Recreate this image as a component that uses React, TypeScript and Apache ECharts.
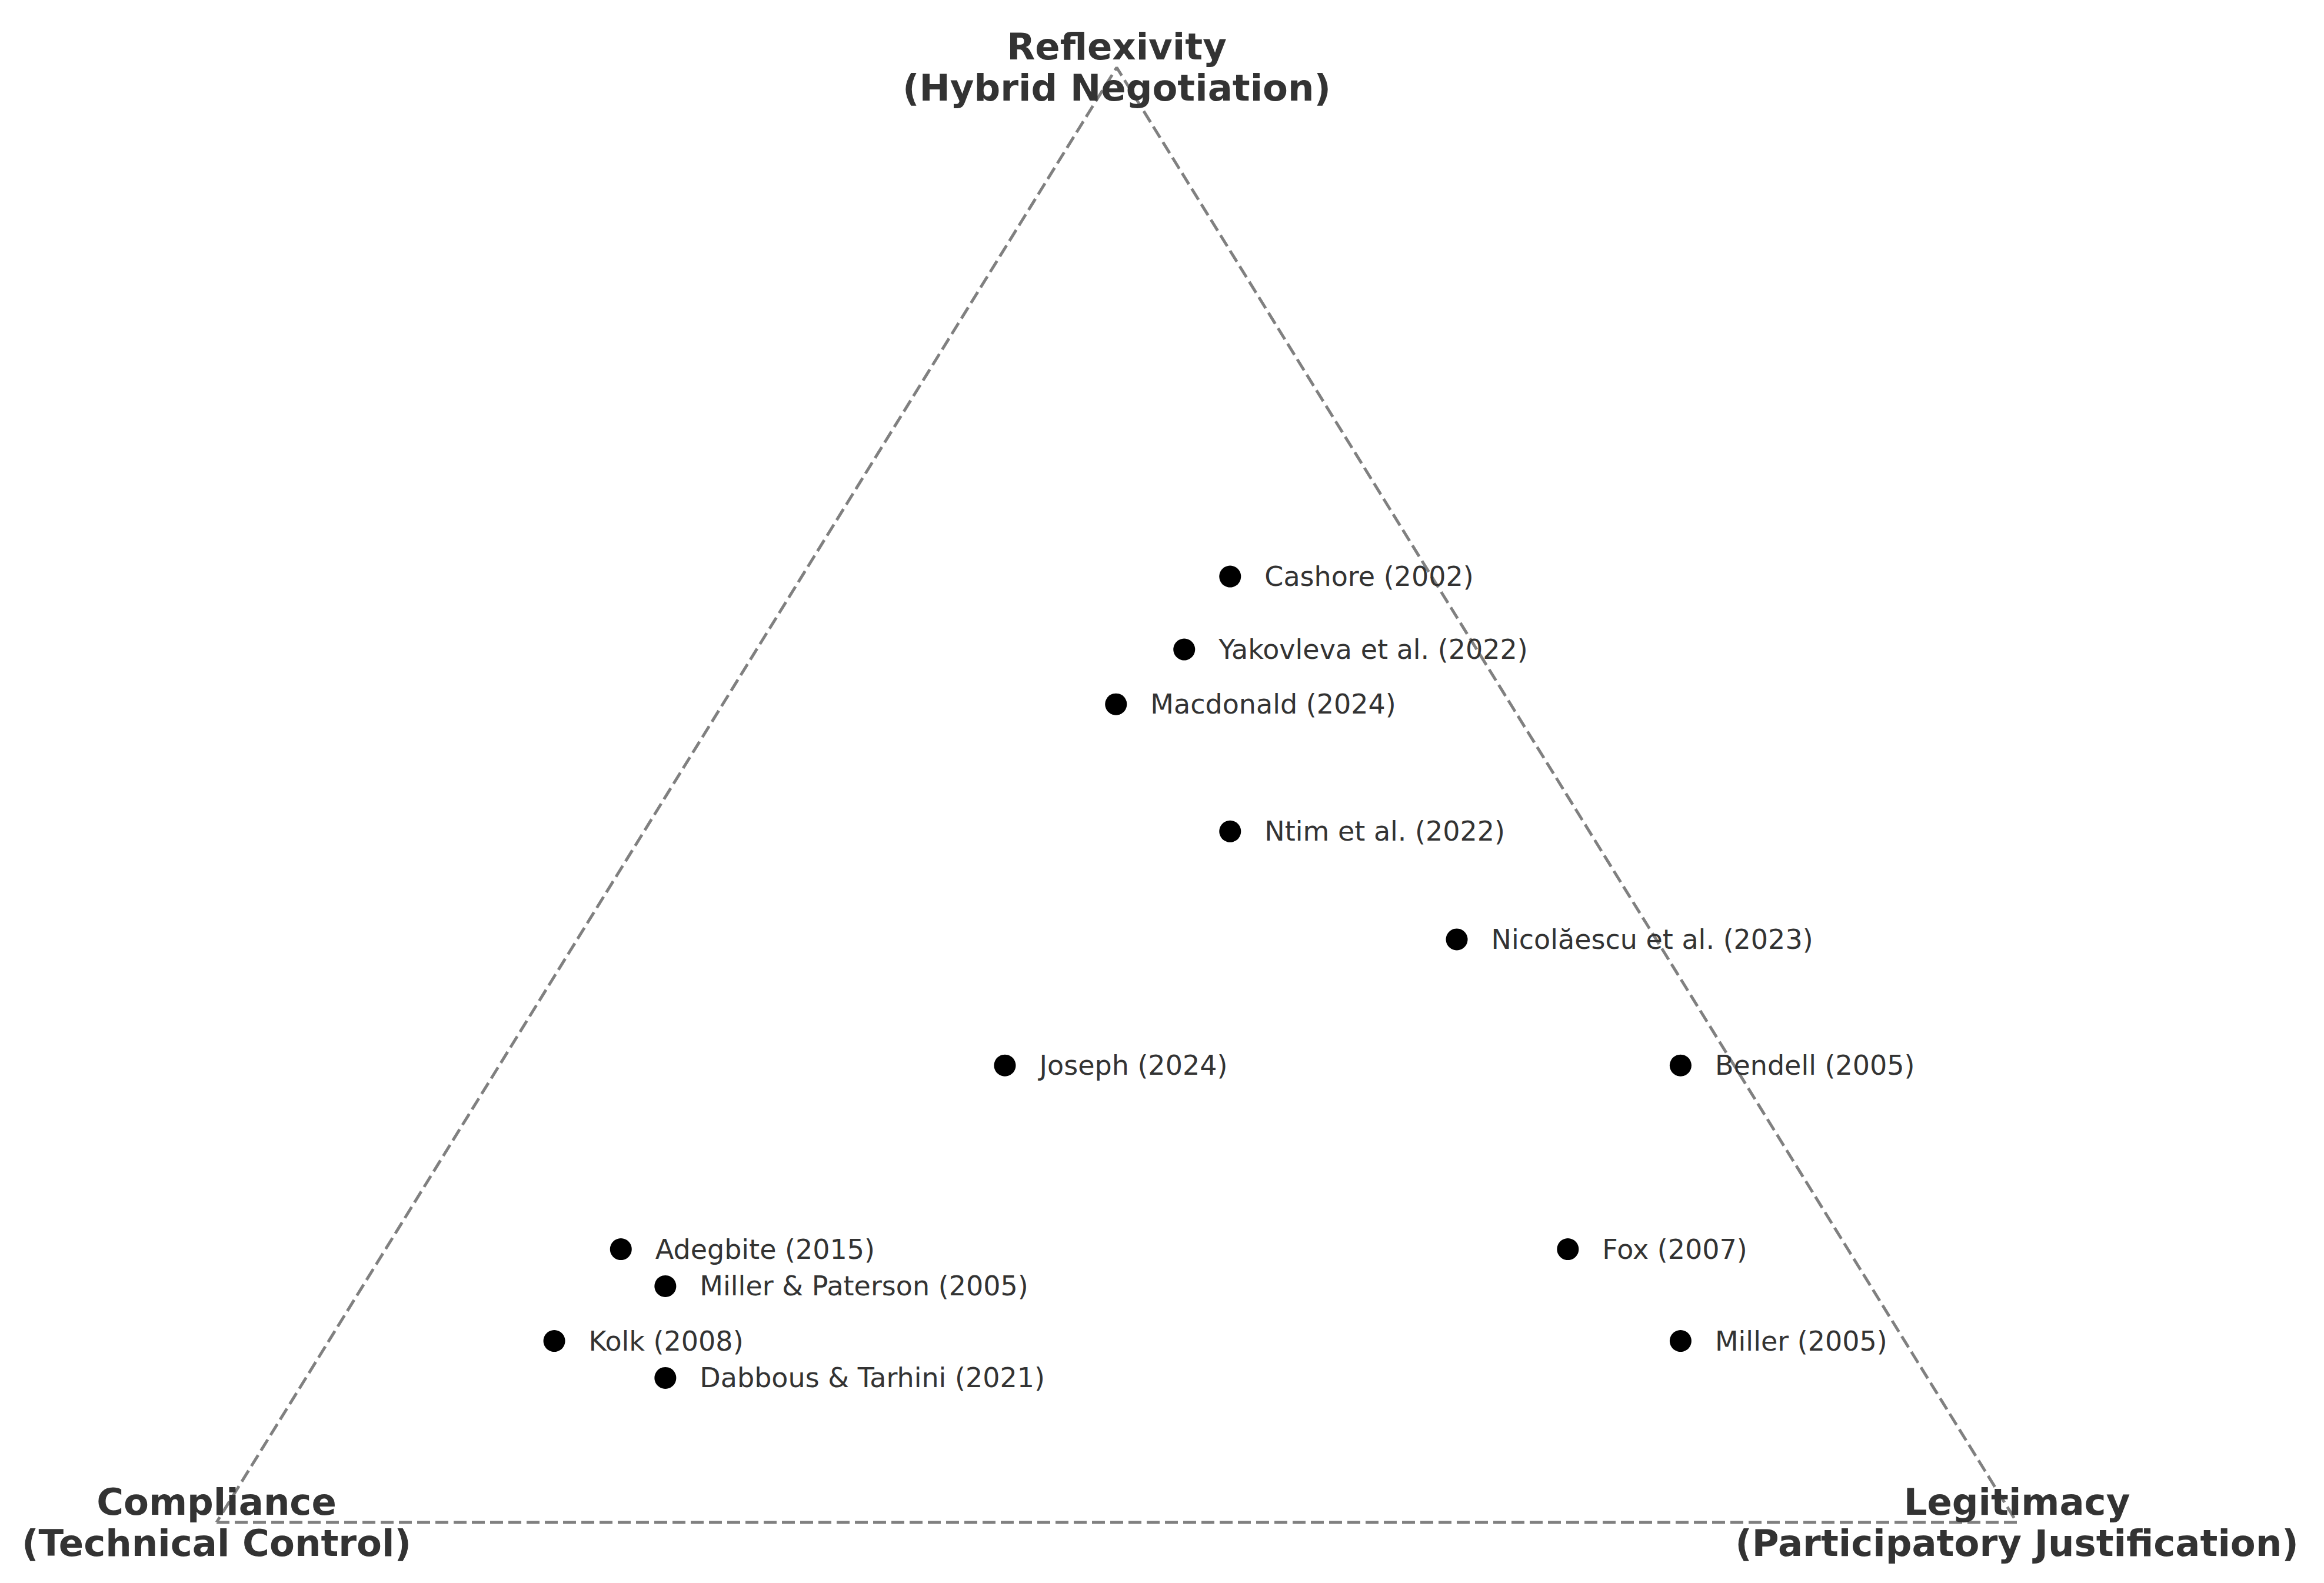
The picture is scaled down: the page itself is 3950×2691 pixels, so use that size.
import React, { useEffect, useRef } from "react";
import * as echarts from "echarts";

// Studies placed in the Compliance–Legitimacy–Reflexivity triangle
const studies = [
  "Cashore (2002)",
  "Yakovleva et al. (2022)",
  "Macdonald (2024)",
  "Ntim et al. (2022)",
  "Nicolăescu et al. (2023)",
  "Joseph (2024)",
  "Bendell (2005)",
  "Adegbite (2015)",
  "Fox (2007)",
  "Miller & Paterson (2005)",
  "Kolk (2008)",
  "Miller (2005)",
  "Dabbous & Tarhini (2021)",
];
// Cartesian position inside the triangle (base 0..1, apex height 0.866)
const studyX = [0.563, 0.5375, 0.4996, 0.563, 0.6889, 0.4379, 0.8132, 0.2246, 0.7506, 0.2493, 0.1876, 0.8132, 0.2493];
const studyY = [0.563, 0.5196, 0.487, 0.4113, 0.347, 0.272, 0.272, 0.1626, 0.1626, 0.1406, 0.108, 0.108, 0.086];

const vertexNames = [
  "Compliance\n(Technical Control)",
  "Legitimacy\n(Participatory Justification)",
  "Reflexivity\n(Hybrid Negotiation)",
];
const vertexX = [0, 1, 0.5];
const vertexY = [0, 0, 0.866];

export default function App() {
  const ref = useRef<HTMLDivElement>(null);
  useEffect(() => {
    document.body.style.margin = "0";
    if (!ref.current) return;
    const chart = echarts.init(ref.current, undefined, { renderer: "svg" });
    const font = "DejaVu Sans";
    const triangle = [0, 1, 2, 0].map((i) => [vertexX[i], vertexY[i]]);
    chart.setOption({
      animation: false,
      backgroundColor: "#ffffff",
      grid: { left: 368, width: 3060, top: 17.6, height: 2570.4 },
      xAxis: { type: "value", min: 0, max: 1, show: false },
      yAxis: { type: "value", min: 0, max: 0.9, show: false },
      series: [
        {
          type: "line",
          data: triangle,
          symbol: "none",
          clip: false,
          lineStyle: { color: "#808080", width: 5, type: [22, 9] },
          z: 1,
        },
        {
          type: "scatter",
          data: studies.map((n, i) => ({ name: n, value: [studyX[i], studyY[i]] })),
          symbol: "circle",
          symbolSize: 37,
          clip: false,
          itemStyle: { color: "#000000", opacity: 1 },
          label: {
            show: true,
            position: "right",
            distance: 40,
            formatter: (p: any) => p.name,
            color: "#333333",
            fontFamily: font,
            fontSize: 46,
          },
          z: 3,
        },
        {
          type: "scatter",
          data: vertexNames.map((n, i) => ({ name: n, value: [vertexX[i], vertexY[i]] })),
          symbolSize: 0,
          clip: false,
          itemStyle: { opacity: 1 },
          label: {
            show: true,
            position: "inside",
            align: "center",
            verticalAlign: "middle",
            formatter: (p: any) => p.name,
            color: "#333333",
            fontFamily: font,
            fontWeight: "bold",
            fontSize: 62.5,
            lineHeight: 70,
          },
          z: 4,
        },
      ],
    });
    return () => chart.dispose();
  }, []);
  return <div ref={ref} style={{ width: 3950, height: 2691 }} />;
}
